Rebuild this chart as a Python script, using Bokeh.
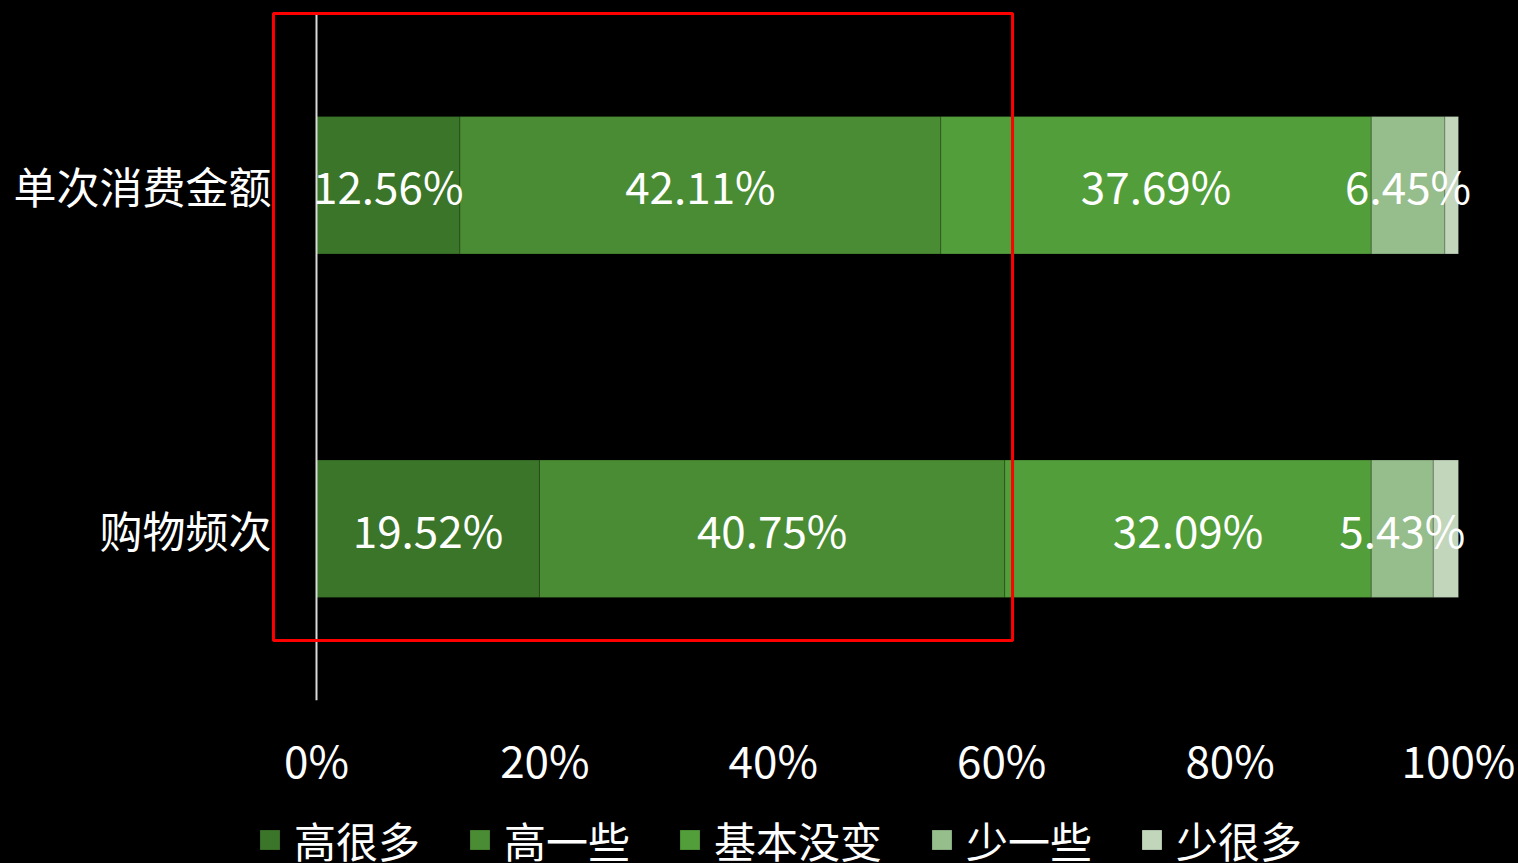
from bokeh.plotting import figure
from bokeh.layouts import column
from bokeh.models import ColumnDataSource, FixedTicker, Legend, LegendItem, Range1d
from bokeh.core.properties import value
from bokeh.embed import file_html
from bokeh.resources import INLINE

# ---- data ----
categories = ["单次消费金额", "购物频次"]
series_names = ["高很多", "高一些", "基本没变", "少一些", "少很多"]
gao_henduo = [12.56, 19.52]
gao_yixie = [42.11, 40.75]
jiben_meibian = [37.69, 32.09]
shao_yixie = [6.45, 5.43]
shao_henduo = [1.19, 2.21]
x_ticks = [0, 20, 40, 60, 80, 100]
x_tick_labels = ["0%", "20%", "40%", "60%", "80%", "100%"]
colors = ["#3b7529", "#4a8c33", "#529e3a", "#96bd8c", "#c2d6bc"]
# highlight box (annotation) in data units: x0, x1, y0, y1
highlight_box = (-3.77, 60.95, 0.175, 2.0)

FONT = "Noto Sans CJK SC"
series_values = [gao_henduo, gao_yixie, jiben_meibian, shao_yixie, shao_henduo]
keys = ["s%d" % i for i in range(len(series_names))]
n = len(categories)
ys = [n - i - 0.5 for i in range(n)]

data = {"y": ys, "cat": categories}
for k, v in zip(keys, series_values):
    data[k] = v
src = ColumnDataSource(data)

p = figure(frame_width=1199, frame_height=690,
           x_range=Range1d(-3.94, 101.05), y_range=Range1d(0, 2.0087),
           output_backend="svg", toolbar_location=None,
           background_fill_color="black", border_fill_color="black",
           outline_line_color=None,
           min_border_left=271, min_border_right=48, min_border_top=10,
           min_border_bottom=100)
p.styles = {"background-color": "black"}
p.grid.visible = False

renderers = p.hbar_stack(keys, y="y", height=0.4, color=colors, source=src,
                         line_color="black", line_alpha=0.2, line_width=1)

# vertical axis line at 0
p.segment(x0=[0], y0=[0], x1=[0], y1=[n], line_color="#d9d9d9", line_width=2)

# data labels (skip last small series)
lx, ly, lt = [], [], []
for ci in range(n):
    start = 0.0
    for si, vals in enumerate(series_values):
        v = vals[ci]
        if si < len(series_values) - 1:
            lx.append(start + v / 2)
            ly.append(ys[ci])
            lt.append(f"{v:.2f}%")
        start += v
p.text(x=lx, y=ly, text=lt, text_font=value(FONT), text_font_size="44px",
       text_align="center", text_baseline="middle", text_color="white")

# highlight rectangle
x0, x1, y0, y1 = highlight_box
p.quad(left=[x0], right=[x1], bottom=[y0], top=[y1], fill_color=None,
       line_color="#ff0000", line_width=3)

# axes
p.yaxis.ticker = FixedTicker(ticks=ys)
p.yaxis.major_label_overrides = {y: c for y, c in zip(ys, categories)}
p.yaxis.axis_line_color = None
p.yaxis.major_tick_line_color = None
p.yaxis.minor_tick_line_color = None
p.yaxis.major_label_standoff = -6
p.yaxis.major_label_text_color = "white"
p.yaxis.major_label_text_font = FONT
p.yaxis.major_label_text_font_size = "43px"

p.xaxis.ticker = FixedTicker(ticks=x_ticks)
p.xaxis.major_label_overrides = {t: l for t, l in zip(x_ticks, x_tick_labels)}
p.xaxis.axis_line_color = None
p.xaxis.major_tick_line_color = None
p.xaxis.minor_tick_line_color = None
p.xaxis.major_label_standoff = 20
p.xaxis.major_label_text_color = "white"
p.xaxis.major_label_text_font = FONT
p.xaxis.major_label_text_font_size = "44px"

# ---- legend strip ----
p2 = figure(width=1518, height=63, x_range=Range1d(0, 1), y_range=Range1d(0, 1),
            output_backend="svg", toolbar_location=None,
            x_axis_type=None, y_axis_type=None, min_border=0,
            background_fill_color="black", border_fill_color="black",
            outline_line_color=None)
p2.frame_align = False
p2.styles = {"background-color": "black"}
p2.grid.visible = False
# legend swatches: hidden hbars placed outside the visible y range
leg_renderers = [p2.hbar(y=[-10], left=[0], right=[1], height=0.4, fill_color=c,
                         line_color="black", line_alpha=0.2) for c in colors]
legend = Legend(items=[LegendItem(label=nm, renderers=[r]) for nm, r in zip(series_names, leg_renderers)],
                orientation="horizontal", location=(257, -7),
                label_text_font=FONT, label_text_font_size="42px", label_text_color="white",
                glyph_width=25, glyph_height=25, label_standoff=12, spacing=47,
                padding=0, margin=0, border_line_color=None, background_fill_alpha=0)
p2.add_layout(legend, "center")

layout = column(p, p2, spacing=0)
layout.styles = {"background-color": "black"}

open("out.html", "w").write(file_html(layout, INLINE))
